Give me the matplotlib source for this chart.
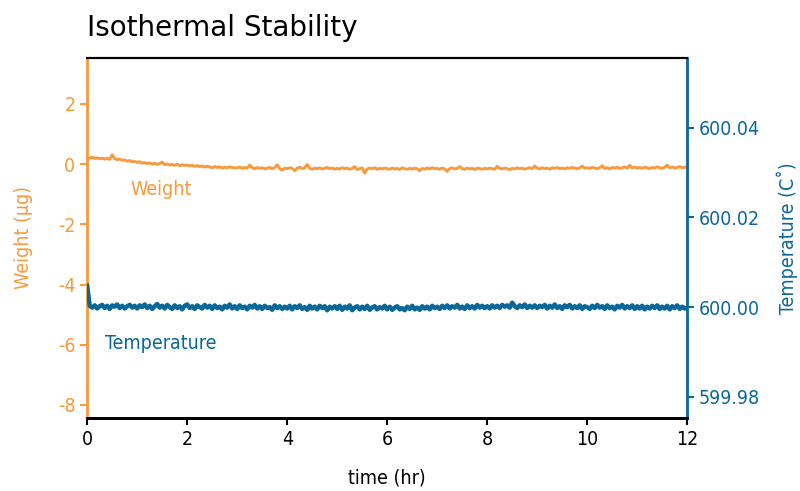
import numpy as np
import matplotlib.pyplot as plt

# Veriler: zaman (saat), 0.05 saat aralıklarla okunan değerler
time_hr = np.arange(0, 241) * 0.05

weight_ug = [
    0.22, 0.20, 0.23, 0.19, 0.21, 0.18, 0.20, 0.17, 0.19, 0.16, 0.31, 0.18, 0.15, 0.17, 0.13, 0.14, 0.10, 0.12, 0.08, 0.09,
    0.06, 0.08, 0.03, 0.05, 0.02, 0.04, 0.00, 0.03, -0.01, 0.02, 0.07, -0.02, 0.01, -0.03, -0.01, -0.04, 0.00, -0.05, -0.02, -0.04,
    -0.03, -0.06, -0.04, -0.07, -0.05, -0.08, -0.06, -0.10, -0.07, -0.09, -0.12, -0.08, -0.11, -0.09, -0.13, -0.10, -0.12, -0.09, -0.11, -0.13,
    -0.12, -0.10, -0.14, -0.11, -0.13, -0.03, -0.12, -0.15, -0.11, -0.14, -0.12, -0.16, -0.13, -0.11, -0.15, -0.12, -0.02, -0.14, -0.20, -0.13,
    -0.15, -0.12, -0.14, -0.22, -0.13, -0.10, -0.15, -0.12, -0.01, -0.14, -0.17, -0.13, -0.15, -0.12, -0.16, -0.14, -0.11, -0.15, -0.13, -0.17,
    -0.14, -0.16, -0.12, -0.15, -0.13, -0.17, -0.14, -0.08, -0.18, -0.15, -0.12, -0.30, -0.16, -0.13, -0.15, -0.12, -0.17, -0.14, -0.16, -0.13,
    -0.15, -0.17, -0.13, -0.16, -0.14, -0.18, -0.12, -0.15, -0.17, -0.14, -0.16, -0.13, -0.15, -0.22, -0.14, -0.17, -0.13, -0.16, -0.12, -0.15,
    -0.14, -0.17, -0.13, -0.16, -0.24, -0.15, -0.12, -0.16, -0.14, -0.08, -0.15, -0.17, -0.13, -0.16, -0.14, -0.18, -0.13, -0.15, -0.17, -0.14,
    -0.16, -0.13, -0.15, -0.17, -0.07, -0.14, -0.16, -0.13, -0.15, -0.18, -0.14, -0.16, -0.12, -0.15, -0.13, -0.17, -0.14, -0.12, -0.15, -0.06,
    -0.13, -0.16, -0.12, -0.15, -0.13, -0.17, -0.12, -0.14, -0.11, -0.15, -0.13, -0.16, -0.12, -0.14, -0.11, -0.13, -0.15, -0.12, -0.07, -0.13,
    -0.12, -0.14, -0.11, -0.13, -0.15, -0.12, -0.05, -0.14, -0.12, -0.16, -0.11, -0.13, -0.10, -0.14, -0.12, -0.09, -0.13, -0.04, -0.12, -0.10,
    -0.13, -0.11, -0.14, -0.10, -0.12, -0.15, -0.11, -0.13, -0.09, -0.12, -0.14, -0.10, -0.03, -0.12, -0.09, -0.13, -0.11, -0.08, -0.12, -0.10,
    -0.11,
]

temperature_c = [
    600.0048, 600.0003, 599.9999, 600.0004, 599.9997, 600.0002, 600.0005, 599.9998, 600.0003, 599.9996, 600.0004, 600.0001, 600.0006, 599.9998, 600.0003, 599.9997, 600.0002, 600.0005, 599.9999, 600.0003,
    599.9997, 600.0004, 600.0000, 600.0006, 599.9998, 600.0003, 599.9996, 600.0002, 600.0007, 599.9999, 600.0003, 599.9997, 600.0005, 600.0000, 599.9996, 600.0004, 599.9998, 600.0002, 599.9995, 600.0003,
    600.0006, 599.9998, 600.0002, 599.9996, 600.0004, 600.0000, 599.9997, 600.0005, 599.9999, 600.0003, 599.9996, 600.0004, 599.9998, 600.0001, 599.9995, 600.0003, 599.9999, 600.0006, 599.9997, 600.0002,
    599.9996, 600.0004, 599.9998, 600.0001, 599.9995, 600.0003, 599.9999, 600.0005, 599.9997, 600.0002, 599.9996, 600.0003, 599.9998, 600.0000, 599.9994, 600.0004, 599.9998, 600.0002, 599.9996, 600.0001,
    599.9997, 600.0003, 599.9995, 600.0002, 599.9998, 600.0004, 599.9996, 600.0000, 599.9994, 600.0003, 599.9997, 600.0001, 599.9995, 600.0003, 599.9998, 600.0002, 599.9993, 600.0001, 599.9997, 600.0002,
    599.9996, 600.0003, 599.9994, 600.0001, 599.9997, 600.0004, 599.9993, 599.9999, 600.0002, 599.9995, 600.0001, 599.9996, 600.0003, 599.9994, 599.9999, 600.0002, 599.9995, 600.0000, 599.9997, 600.0003,
    599.9995, 600.0001, 599.9994, 599.9999, 600.0002, 599.9995, 599.9998, 599.9993, 600.0001, 599.9996, 600.0003, 599.9995, 599.9999, 599.9994, 600.0002, 599.9997, 600.0001, 599.9995, 600.0003, 599.9998,
    600.0001, 599.9996, 600.0003, 599.9998, 600.0004, 599.9997, 600.0002, 599.9999, 600.0005, 599.9997, 600.0001, 599.9996, 600.0004, 599.9998, 600.0002, 599.9997, 600.0005, 599.9999, 600.0003, 599.9998,
    600.0002, 599.9997, 600.0004, 599.9999, 600.0003, 599.9998, 600.0005, 600.0001, 600.0004, 599.9999, 600.0010, 600.0002, 599.9998, 600.0004, 600.0000, 600.0006, 599.9998, 600.0003, 599.9999, 600.0004,
    599.9998, 600.0003, 600.0000, 600.0005, 599.9997, 600.0003, 599.9999, 600.0006, 599.9998, 600.0002, 599.9996, 600.0004, 600.0000, 600.0005, 599.9997, 600.0002, 599.9998, 600.0004, 599.9996, 600.0002,
    600.0000, 599.9996, 600.0003, 599.9998, 600.0005, 599.9999, 600.0002, 599.9996, 600.0004, 599.9998, 600.0001, 599.9995, 600.0003, 599.9999, 600.0005, 599.9997, 600.0002, 599.9998, 600.0004, 599.9996,
    600.0002, 599.9997, 600.0003, 599.9995, 600.0001, 599.9997, 600.0003, 599.9998, 600.0004, 599.9996, 600.0001, 599.9997, 600.0003, 599.9995, 600.0002, 599.9998, 600.0004, 599.9996, 600.0001, 599.9997,
    599.9999,
]

weight_ticks = [-8, -6, -4, -2, 0, 2]
temp_ticks = [599.98, 600.00, 600.02, 600.04]
time_ticks = [0, 2, 4, 6, 8, 10, 12]

turuncu = "#F89A3C"
mavi = "#0A6899"
plt.rcParams["font.family"] = ["DejaVu Sans"]
plt.rcParams["font.stretch"] = "condensed"
plt.rcParams["axes.unicode_minus"] = False

fig = plt.figure(figsize=(8, 4.91), dpi=100)
ax = fig.add_axes([0.109, 0.149, 0.75, 0.733])
ax2 = ax.twinx()

ax.plot(time_hr, weight_ug, color=turuncu, lw=2.1)
ax2.plot(time_hr, temperature_c, color=mavi, lw=3.2)

ax.set_xlim(0, 12)
ax.set_ylim(-8.43, 3.53)
ax2.set_ylim(599.9753, 600.0556)

ax.set_xticks(time_ticks)
ax.set_yticks(weight_ticks)
ax2.set_yticks(temp_ticks)
ax2.set_yticklabels([f"{v:.2f}" for v in temp_ticks])

# eksen çizgileri
ax.spines["left"].set_color(turuncu)
ax.spines["left"].set_linewidth(2)
ax2.spines["left"].set_visible(False)
ax2.spines["right"].set_color(mavi)
ax2.spines["right"].set_linewidth(2)
ax.spines["right"].set_visible(False)
for a in (ax, ax2):
    a.spines["top"].set_linewidth(1.5)
    a.spines["bottom"].set_linewidth(2)

ax.tick_params(axis="y", colors=turuncu, labelsize=14, width=1.5, length=5)
ax.tick_params(axis="x", colors="black", labelsize=14, width=1.5, length=5)
ax2.tick_params(axis="y", colors=mavi, labelsize=14, width=1.5, length=5)

ax.set_xlabel("time (hr)", fontsize=14, labelpad=14)
ax.set_ylabel("Weight (\u00b5g)", fontsize=14, color=turuncu, labelpad=18)
ax2.set_ylabel("Temperature (C\u02da)", fontsize=14, color=mavi, labelpad=12)

ax.text(0.86, -0.85, "Weight", color=turuncu, fontsize=14, va="center")
ax.text(0.36, -5.95, "Temperature", color=mavi, fontsize=14, va="center")

fig.text(0.109, 0.943, "Isothermal Stability", fontsize=20, stretch="normal",
         family=["DejaVu Sans"], va="center")

fig.savefig("out.png", dpi=100)
